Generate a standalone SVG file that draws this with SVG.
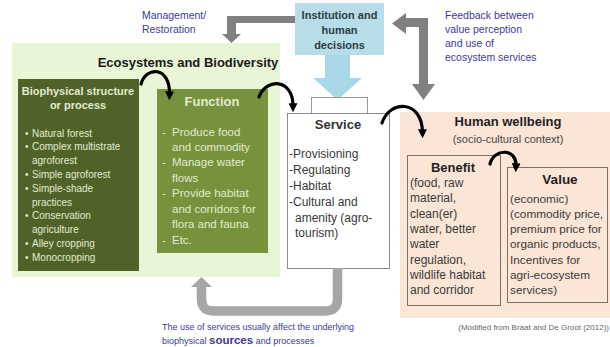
<svg xmlns="http://www.w3.org/2000/svg" width="610" height="347" viewBox="0 0 610 347">
  <style>
    text { font-family: "Liberation Sans", Arial, sans-serif; }
    .note { fill: #40399c; font-size: 10.5px; }
    .head { font-weight: bold; text-anchor: middle; }
    .light { fill: #e2ebd0; }
    .dark { fill: #3a3a3a; }
    .curve { fill: none; stroke: #000; stroke-width: 3.2; stroke-linecap: round; marker-end: url(#tip); }
    .gray { fill: #808080; }
  </style>
  <defs>
    <marker id="tip" viewBox="0 0 10 10" refX="3" refY="5" markerWidth="9" markerHeight="9" markerUnits="userSpaceOnUse" orient="auto">
      <path d="M0,0 L10,5 L0,10 z" fill="#000"/>
    </marker>
  </defs>

  <rect width="610" height="347" fill="#ffffff"/>

  <!-- Ecosystems and Biodiversity panel -->
  <g id="ecosystems">
    <rect x="12" y="43" width="268" height="234" fill="#e8f5d6"/>
    <text class="head" x="188" y="67" font-size="13" fill="#1a1a1a">Ecosystems and Biodiversity</text>
  </g>

  <g id="biophysical">
    <rect x="18" y="79" width="121" height="192" fill="#4f6228"/>
    <text class="head light" x="78" y="95" font-size="11">Biophysical structure</text>
    <text class="head light" x="78" y="109" font-size="11">or process</text>
    <g class="light" font-size="10">
      <text x="25" y="136.5">•</text><text x="32" y="136.5">Natural forest</text>
      <text x="25" y="150.3">•</text><text x="32" y="150.3">Complex multistrate</text>
      <text x="32" y="164.1">agroforest</text>
      <text x="25" y="177.9">•</text><text x="32" y="177.9">Simple agroforest</text>
      <text x="25" y="191.7">•</text><text x="32" y="191.7">Simple-shade</text>
      <text x="32" y="205.5">practices</text>
      <text x="25" y="219.3">•</text><text x="32" y="219.3">Conservation</text>
      <text x="32" y="233.1">agriculture</text>
      <text x="25" y="246.9">•</text><text x="32" y="246.9">Alley cropping</text>
      <text x="25" y="260.7">•</text><text x="32" y="260.7">Monocropping</text>
    </g>
  </g>

  <g id="function">
    <rect x="157" y="89" width="111" height="164" fill="#76923c"/>
    <text class="head light" x="212" y="106" font-size="13">Function</text>
    <g class="light" font-size="11.5">
      <text x="162" y="136">-</text><text x="172" y="136">Produce food</text>
      <text x="172" y="150.5">and commodity</text>
      <text x="162" y="166">-</text><text x="172" y="166">Manage water</text>
      <text x="172" y="181.5">flows</text>
      <text x="162" y="197">-</text><text x="172" y="197">Provide habitat</text>
      <text x="172" y="212.5">and corridors for</text>
      <text x="172" y="228">flora and fauna</text>
      <text x="162" y="243.5">-</text><text x="172" y="243.5">Etc.</text>
    </g>
  </g>

  <!-- Institution and human decisions with its downward arrow -->
  <g id="institution">
    <polygon points="325,54 350,54 350,78 362,78 337.5,100 313,78 325,78" fill="#a8d8e7"/>
    <rect x="295" y="3" width="89" height="52" fill="#b7dee8"/>
    <text class="head" x="339.5" y="19" font-size="11" fill="#2d3b44">Institution and</text>
    <text class="head" x="339.5" y="34" font-size="11" fill="#2d3b44">human</text>
    <text class="head" x="339.5" y="49" font-size="11" fill="#2d3b44">decisions</text>
  </g>

  <g id="service">
    <rect x="311.5" y="97.5" width="56" height="16" fill="#fff" stroke="#9a9a9a" stroke-width="1"/>
    <rect x="287.5" y="113.5" width="102" height="155" fill="#fff" stroke="#8c8c8c" stroke-width="1"/>
    <text class="head" x="338" y="129" font-size="13" fill="#333">Service</text>
    <g class="dark" font-size="12">
      <text x="289" y="158">-Provisioning</text>
      <text x="289" y="174">-Regulating</text>
      <text x="289" y="190">-Habitat</text>
      <text x="289" y="206">-Cultural and</text>
      <text x="295" y="222">amenity (agro-</text>
      <text x="295" y="237">tourism)</text>
    </g>
  </g>

  <g id="wellbeing">
    <rect x="400" y="112" width="210" height="206" fill="#fbe5d6"/>
    <text class="head" x="508" y="126" font-size="13" fill="#1f1f1f">Human wellbeing</text>
    <text x="508" y="143" font-size="11" fill="#444" text-anchor="middle">(socio-cultural context)</text>
  </g>

  <g id="benefit">
    <rect x="407.5" y="155.5" width="93" height="150" fill="#fbe5d6" stroke="#7f6f66" stroke-width="1"/>
    <text class="head" x="453" y="172" font-size="13" fill="#1f1f1f">Benefit</text>
    <g class="dark" font-size="12">
      <text x="410" y="187">(food, raw</text>
      <text x="410" y="202.3">material,</text>
      <text x="410" y="217.6">clean(er)</text>
      <text x="410" y="232.9">water, better</text>
      <text x="410" y="248.2">water</text>
      <text x="410" y="263.5">regulation,</text>
      <text x="410" y="278.8">wildlife habitat</text>
      <text x="410" y="294.1">and corridor</text>
    </g>
  </g>

  <g id="value">
    <rect x="507.5" y="167.5" width="100" height="135" fill="#fbe5d6" stroke="#7f6f66" stroke-width="1"/>
    <text class="head" x="560" y="184" font-size="13.5" fill="#1f1f1f">Value</text>
    <g class="dark" font-size="11.8">
      <text x="510" y="203">(economic)</text>
      <text x="510" y="218">(commodity price,</text>
      <text x="510" y="233">premium price for</text>
      <text x="510" y="248">organic products,</text>
      <text x="510" y="264">Incentives for</text>
      <text x="510" y="279">agri-ecosystem</text>
      <text x="510" y="294">services)</text>
    </g>
  </g>

  <!-- Connectors -->
  <g id="connectors">
    <!-- Management / Restoration arrow -->
    <polygon class="gray" points="295,16 295,23 236,23 236,34 241,34 231.5,43 222,34 227,34 227,16"/>
    <!-- Feedback arrow -->
    <polygon class="gray" points="428,18 428,84 435,84 423.5,100 412,84 419,84 419,27 406,27 406,34 392,23.5 406,13 406,18"/>
    <!-- Use of services back to biophysical sources -->
    <path d="M337.5,268 V299 Q337.5,311 325.5,311 H213.5 Q201.5,311 201.5,299 V286" fill="none" stroke="#a6a6a6" stroke-width="9.5"/>
    <polygon points="191,287 212,287 201.5,277" fill="#a6a6a6"/>
    <!-- Curved flow arrows -->
    <path class="curve" d="M141,84 C146,66 170,66 169.5,94"/>
    <path class="curve" d="M259,97 C266,78 293,78 293,106"/>
    <path class="curve" d="M382,123 C390,99 422,100 422.5,132"/>
    <path class="curve" d="M490,164 C494,148 517,148 516,166"/>
  </g>

  <!-- Annotations -->
  <text class="note" x="142" y="19">Management/</text>
  <text class="note" x="142" y="33">Restoration</text>
  <g class="note" font-size="11">
    <text x="445" y="19">Feedback between</text>
    <text x="445" y="33">value perception</text>
    <text x="445" y="47">and use of</text>
    <text x="445" y="61">ecosystem services</text>
  </g>
  <text x="162" y="330" font-size="9" fill="#40399c">The use of services usually affect the underlying</text>
  <text x="162" y="344" font-size="9" fill="#40399c">biophysical <tspan font-size="11.5" font-weight="bold">sources</tspan> and processes</text>
  <text x="609" y="330" font-size="8" fill="#666" text-anchor="end">(Modified from Braat and De Groot (2012))</text>
</svg>
